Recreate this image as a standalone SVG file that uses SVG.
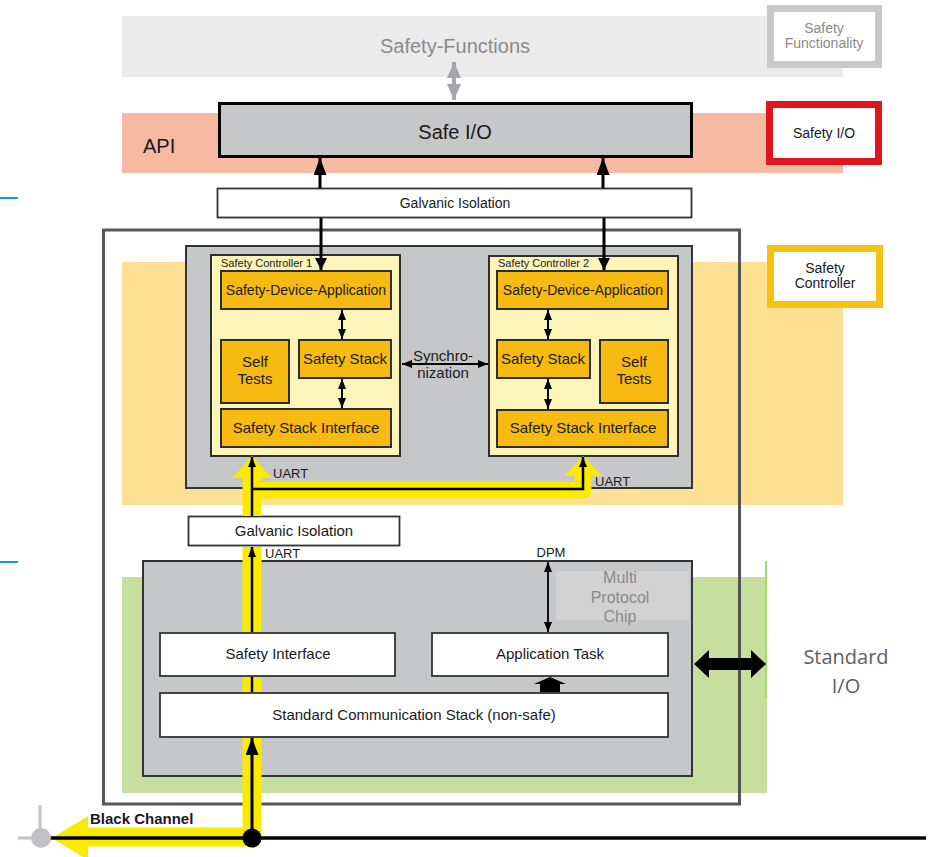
<svg xmlns="http://www.w3.org/2000/svg" width="931" height="857" viewBox="0 0 931 857">
<defs>
<style>
text{font-family:"Liberation Sans",Arial,sans-serif;fill:#1a1a1a}
.c{text-anchor:middle}
.f15{font-size:15px}
.f14{font-size:14px}
.f13{font-size:13px}
.white{fill:#fff;stroke:#333;stroke-width:1.8}
.gray{fill:#c6c7c9;stroke:#333;stroke-width:2}
.panel{fill:#fdf4ba;stroke:#2e2e2e;stroke-width:2}
.orange{fill:#f6ba12;stroke:#2e2e2e;stroke-width:2}
.ln{stroke:#000;fill:none}
.yel{stroke:#f9ea00;fill:none;stroke-linejoin:round}
.lbl{fill:#fff;stroke-width:7}
</style>
<marker id="ahS" viewBox="0 0 10 8" refX="10" refY="4" markerWidth="10" markerHeight="8" markerUnits="userSpaceOnUse" orient="auto-start-reverse"><path d="M0,0 L10,4 L0,8 z" fill="#000"/></marker>
<marker id="ahM" viewBox="0 0 12 12" refX="12" refY="6" markerWidth="12" markerHeight="12" markerUnits="userSpaceOnUse" orient="auto-start-reverse"><path d="M0,0 L12,6 L0,12 z" fill="#000"/></marker>
<marker id="ahL" viewBox="0 0 17 13" refX="17" refY="6.5" markerWidth="17" markerHeight="13" markerUnits="userSpaceOnUse" orient="auto-start-reverse"><path d="M0,0 L17,6.5 L0,13 z" fill="#000"/></marker>
<marker id="ahG" viewBox="0 0 16 14" refX="16" refY="7" markerWidth="16" markerHeight="14" markerUnits="userSpaceOnUse" orient="auto-start-reverse"><path d="M0,0 L16,7 L0,14 z" fill="#a4a5ad"/></marker>
</defs>
<rect width="931" height="857" fill="#fff"/>

<g id="bands">
<rect x="122" y="16" width="721" height="61" fill="#ebebeb"/>
<rect x="122" y="113" width="721" height="60" fill="#f6b9a1"/>
<rect x="122" y="262" width="721" height="243" fill="#fde091"/>
<rect x="122" y="577" width="645" height="216" fill="#c6df9f"/>
<line x1="766" y1="561" x2="766" y2="698" stroke="#a6d96a" stroke-width="2"/>
<line x1="0" y1="198" x2="18" y2="198" stroke="#1a9ad6" stroke-width="2"/>
<line x1="0" y1="562" x2="18" y2="562" stroke="#1a9ad6" stroke-width="2"/>
<text x="455" y="53" class="c" style="font-size:20px;fill:#8a8a8a">Safety-Functions</text>
<text x="143" y="153" style="font-size:20px">API</text>
</g>

<g id="legend-safety-functionality">
<rect x="770.5" y="8.5" width="108" height="56" class="lbl" stroke="#c8c8c8"/>
<text x="824" y="33" class="c f14" style="fill:#8a8a8a">Safety</text>
<text x="824" y="48" class="c f14" style="fill:#8a8a8a">Functionality</text>
</g>
<g id="legend-safety-io">
<rect x="769.5" y="104.5" width="109" height="57" class="lbl" stroke="#e0161e"/>
<text x="824" y="138" class="c f14">Safety I/O</text>
</g>
<g id="legend-safety-controller">
<rect x="770.5" y="248.5" width="109" height="56" class="lbl" stroke="#f5c211"/>
<text x="825" y="273" class="c f14">Safety</text>
<text x="825" y="288" class="c f14">Controller</text>
</g>

<g id="outer-device">
<rect x="103.5" y="230" width="636" height="574" fill="none" stroke="#555" stroke-width="3"/>
</g>

<g id="safe-io">
<rect x="219.5" y="103.5" width="472" height="53" fill="#c6c7c9" stroke="#000" stroke-width="3"/>
<text x="455" y="139" class="c" style="font-size:20px">Safe I/O</text>
</g>

<g id="galvanic-isolation-top">
<rect x="217.5" y="188.5" width="474" height="29" class="white"/>
<text x="455" y="208" class="c f14">Galvanic Isolation</text>
</g>

<g id="controller-container">
<rect x="186" y="246" width="506" height="242" class="gray"/>
</g>

<g id="multi-protocol-chip">
<rect x="143" y="561" width="549" height="215" class="gray"/>
<rect x="556" y="571" width="133" height="49" fill="#d2d2d3"/>
<text x="620" y="583" class="c" style="font-size:16px;fill:#8a8a8a">Multi</text>
<text x="620" y="603" class="c" style="font-size:16px;fill:#8a8a8a">Protocol</text>
<text x="620" y="622" class="c" style="font-size:16px;fill:#8a8a8a">Chip</text>
</g>

<g id="safety-controller-1">
<rect x="211" y="255" width="189" height="201" class="panel"/>
<text x="221" y="267" style="font-size:11px">Safety Controller 1</text>
</g>
<g id="sc1-safety-device-application">
<rect x="221" y="271" width="170" height="38" class="orange"/>
<text x="306" y="295" class="c f14">Safety-Device-Application</text>
</g>
<g id="sc1-self-tests">
<rect x="221" y="340" width="68" height="63" class="orange"/>
<text x="255" y="367" class="c f15">Self</text>
<text x="255" y="384" class="c f15">Tests</text>
</g>
<g id="sc1-safety-stack">
<rect x="299" y="340" width="92" height="38" class="orange"/>
<text x="345" y="364" class="c f15">Safety Stack</text>
</g>
<g id="sc1-safety-stack-interface">
<rect x="221" y="409" width="170" height="38" class="orange"/>
<text x="306" y="433" class="c f15">Safety Stack Interface</text>
</g>

<g id="safety-controller-2">
<rect x="489" y="256" width="189" height="200" class="panel"/>
<text x="498" y="267" style="font-size:11px">Safety Controller 2</text>
</g>
<g id="sc2-safety-device-application">
<rect x="497" y="271" width="171" height="38" class="orange"/>
<text x="583" y="295" class="c f14">Safety-Device-Application</text>
</g>
<g id="sc2-safety-stack">
<rect x="497" y="340" width="93" height="38" class="orange"/>
<text x="543" y="364" class="c f15">Safety Stack</text>
</g>
<g id="sc2-self-tests">
<rect x="600" y="340" width="68" height="63" class="orange"/>
<text x="634" y="367" class="c f15">Self</text>
<text x="634" y="384" class="c f15">Tests</text>
</g>
<g id="sc2-safety-stack-interface">
<rect x="497" y="410" width="171" height="37" class="orange"/>
<text x="583" y="433" class="c f15">Safety Stack Interface</text>
</g>

<g id="galvanic-isolation-bottom">
<rect x="188.5" y="516.5" width="211" height="29" class="white"/>
<text x="294" y="536" class="c f15">Galvanic Isolation</text>
</g>
<g id="safety-interface">
<rect x="160" y="633" width="235" height="43" class="white"/>
<text x="278" y="659" class="c f15">Safety Interface</text>
</g>
<g id="application-task">
<rect x="432" y="633" width="236" height="43" class="white"/>
<text x="550" y="659" class="c f15">Application Task</text>
</g>
<g id="standard-communication-stack">
<rect x="160" y="693" width="508" height="44" class="white"/>
<text x="414" y="720" class="c f15">Standard Communication Stack (non-safe)</text>
</g>

<g id="standard-io">
<text x="846" y="664" class="c" style="font-family:'Open Sans','Noto Sans',sans-serif;font-size:20px;fill:#606060">Standard</text>
<text x="846" y="693" class="c" style="font-family:'Open Sans','Noto Sans',sans-serif;font-size:20px;fill:#606060">I/O</text>
</g>

<g id="connectors">
<line x1="454" y1="62" x2="454" y2="100" stroke="#a4a5ad" stroke-width="4" marker-start="url(#ahG)" marker-end="url(#ahG)"/>
<line x1="320" y1="188" x2="320" y2="158" class="ln" stroke-width="3" marker-end="url(#ahL)"/>
<line x1="603" y1="188" x2="603" y2="158" class="ln" stroke-width="3" marker-end="url(#ahL)"/>
<line x1="321" y1="218" x2="321" y2="270" class="ln" stroke-width="3" marker-end="url(#ahM)"/>
<line x1="604" y1="218" x2="604" y2="270" class="ln" stroke-width="3" marker-end="url(#ahM)"/>
<line x1="342" y1="310" x2="342" y2="339" class="ln" stroke-width="2" marker-start="url(#ahS)" marker-end="url(#ahS)"/>
<line x1="342" y1="379" x2="342" y2="408" class="ln" stroke-width="2" marker-start="url(#ahS)" marker-end="url(#ahS)"/>
<line x1="548" y1="310" x2="548" y2="339" class="ln" stroke-width="2" marker-start="url(#ahS)" marker-end="url(#ahS)"/>
<line x1="548" y1="379" x2="548" y2="409" class="ln" stroke-width="2" marker-start="url(#ahS)" marker-end="url(#ahS)"/>
<line x1="402" y1="364" x2="488" y2="364" class="ln" stroke-width="1.8" marker-start="url(#ahS)" marker-end="url(#ahS)"/>
<line x1="548" y1="562" x2="548" y2="632" class="ln" stroke-width="1.8" marker-start="url(#ahS)" marker-end="url(#ahS)"/>
<!-- yellow path, broken where boxes cover it -->
<polyline points="252,476 252,516" class="yel" stroke-width="19"/>
<polyline points="252,547 252,632" class="yel" stroke-width="19"/>
<polyline points="252,677 252,692" class="yel" stroke-width="19"/>
<polyline points="252,738 252,837 86,837" class="yel" stroke-width="19"/>
<polyline points="252,490 583,490 583,474" class="yel" stroke-width="17"/>
<polygon points="252,456 272,478 232,478" fill="#f9ea00"/>
<polygon points="583,456 602,476 564,476" fill="#f9ea00"/>
<polygon points="88,816 52,838 88,860" fill="#f9ea00"/>
<!-- black lines -->
<line x1="252" y1="516" x2="252" y2="457" class="ln" stroke-width="2.5" marker-end="url(#ahS)"/>
<polyline points="252,489 583,489 583,457" class="ln" stroke-width="2.5" marker-end="url(#ahS)"/>
<line x1="252" y1="632" x2="252" y2="547" class="ln" stroke-width="2.5" marker-end="url(#ahS)"/>
<line x1="252" y1="692" x2="252" y2="677" class="ln" stroke-width="2.5"/>
<line x1="252" y1="838" x2="252" y2="738" class="ln" stroke-width="3" marker-end="url(#ahL)"/>
<line x1="40" y1="805" x2="40" y2="838" stroke="#c0c0c8" stroke-width="3"/>
<line x1="18" y1="838" x2="40" y2="838" stroke="#c0c0c8" stroke-width="3"/>
<line x1="41" y1="838" x2="926" y2="838" class="ln" stroke-width="3.5"/>
<circle cx="41" cy="838" r="10" fill="#c0c0c8"/>
<circle cx="252" cy="838" r="9.5" fill="#000"/>
<polygon points="550,677 566,684 560,684 560,692 540,692 540,684 534,684" fill="#000"/>
<polygon points="694,664 709,650 709,658 751,658 751,650 766,664 751,678 751,670 709,670 709,678" fill="#000"/>
<text x="273" y="478" class="f13">UART</text>
<text x="595" y="486" class="f13">UART</text>
<text x="265" y="558" class="f13">UART</text>
<text x="551" y="557" class="c f13">DPM</text>
<text x="443" y="361" class="c f15">Synchro-</text>
<text x="443" y="378" class="c f15">nization</text>
<text x="90" y="824" style="font-size:15px;font-weight:bold">Black Channel</text>
</g>
</svg>
